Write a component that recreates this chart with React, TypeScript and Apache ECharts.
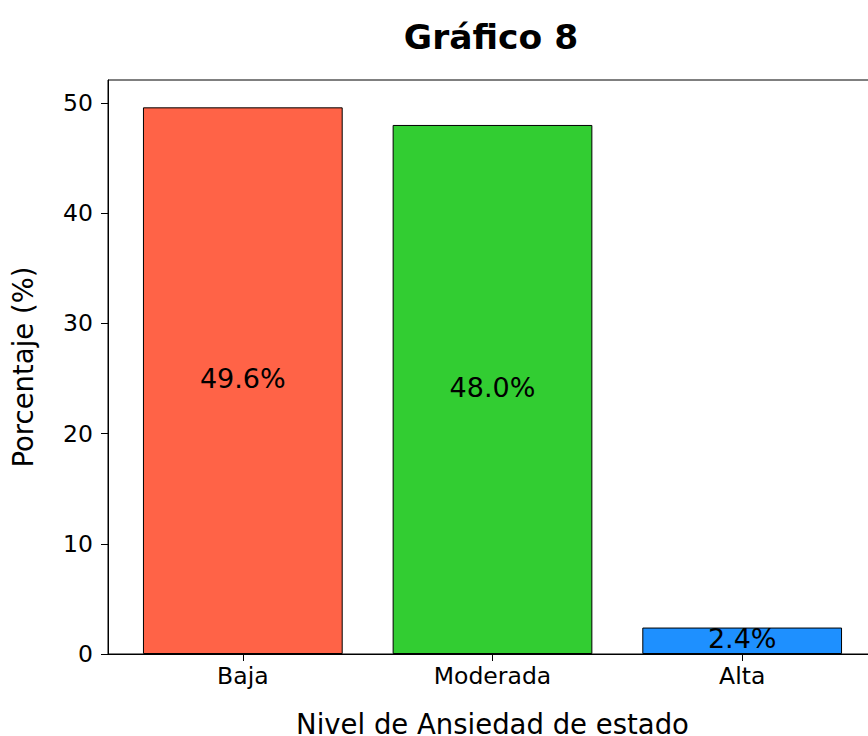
import React, { useEffect, useRef } from "react";
import * as echarts from "echarts";

const categories = ["Baja", "Moderada", "Alta"];
const percentages = [49.6, 48.0, 2.4];
const barColors = ["#FF6347", "#32CD32", "#1E90FF"];
const yTicks = [0, 10, 20, 30, 40, 50];

const FONT = "DejaVu Sans";

export default function App() {
  const ref = useRef<HTMLDivElement>(null);
  useEffect(() => {
    document.body.style.margin = "0";
    const chart = echarts.init(ref.current!, null, { renderer: "svg" });
    const yMax = Math.max(...percentages) * 1.05;
    const xMin = -0.4 - 0.14;
    const xMax = categories.length - 1 + 0.4 + 0.14;
    const plotW = 868 + 9 - 108;
    const barW = (plotW * 0.8) / (xMax - xMin);
    chart.setOption({
      animation: false,
      backgroundColor: "#ffffff",
      title: {
        text: "Gráfico 8",
        left: 486,
        top: 14,
        textAlign: "center",
        textStyle: { fontFamily: FONT, fontSize: 34.5, fontWeight: "bold", color: "#000" },
      },
      grid: {
        left: 108,
        right: -9,
        top: 80,
        bottom: 82,
        show: true,
        borderColor: "#000",
        borderWidth: 1,
        backgroundColor: "transparent",
        containLabel: false,
        outerBoundsMode: "none",
      },
      xAxis: {
        type: "value",
        min: xMin,
        max: xMax,
        name: "Nivel de Ansiedad de estado",
        nameLocation: "middle",
        nameGap: 56,
        nameTextStyle: { fontFamily: FONT, fontSize: 27.5, color: "#000" },
        axisLine: { show: true, onZero: false, lineStyle: { color: "#000", width: 1 } },
        axisTick: { show: true, length: 7, customValues: categories.map((_, i) => i), lineStyle: { color: "#000" } },
        axisLabel: {
          show: true,
          customValues: categories.map((_, i) => i),
          formatter: (v: number) => categories[Math.round(v)] ?? "",
          fontFamily: FONT,
          fontSize: 23.5,
          color: "#000",
          margin: 9.5,
        },
        splitLine: { show: false },
      },
      yAxis: {
        type: "value",
        min: 0,
        max: yMax,
        interval: 10,
        name: "Porcentaje (%)",
        nameLocation: "middle",
        nameGap: 71,
        nameTextStyle: { fontFamily: FONT, fontSize: 27.5, color: "#000" },
        axisLine: { show: true, onZero: false, lineStyle: { color: "#000", width: 1 } },
        axisTick: { show: true, length: 7, customValues: yTicks, lineStyle: { color: "#000" } },
        axisLabel: {
          show: true,
          customValues: yTicks,
          fontFamily: FONT,
          fontSize: 23.5,
          color: "#000",
          margin: 15,
        },
        splitLine: { show: false },
      },
      series: [
        {
          type: "bar",
          barWidth: barW,
          data: categories.map((c, i) => ({
            name: c,
            value: [i, percentages[i]],
            itemStyle: { color: barColors[i], borderColor: "#000", borderWidth: 1 },
          })),
          label: {
            show: true,
            position: "inside",
            formatter: (p: any) => `${Number(p.data.value[1]).toFixed(1)}%`,
            fontFamily: FONT,
            fontSize: 27,
            color: "#000",
            offset: [0, -2],
          },
        },
      ],
    });
    return () => chart.dispose();
  }, []);
  return <div ref={ref} style={{ width: 868, height: 736 }} />;
}
